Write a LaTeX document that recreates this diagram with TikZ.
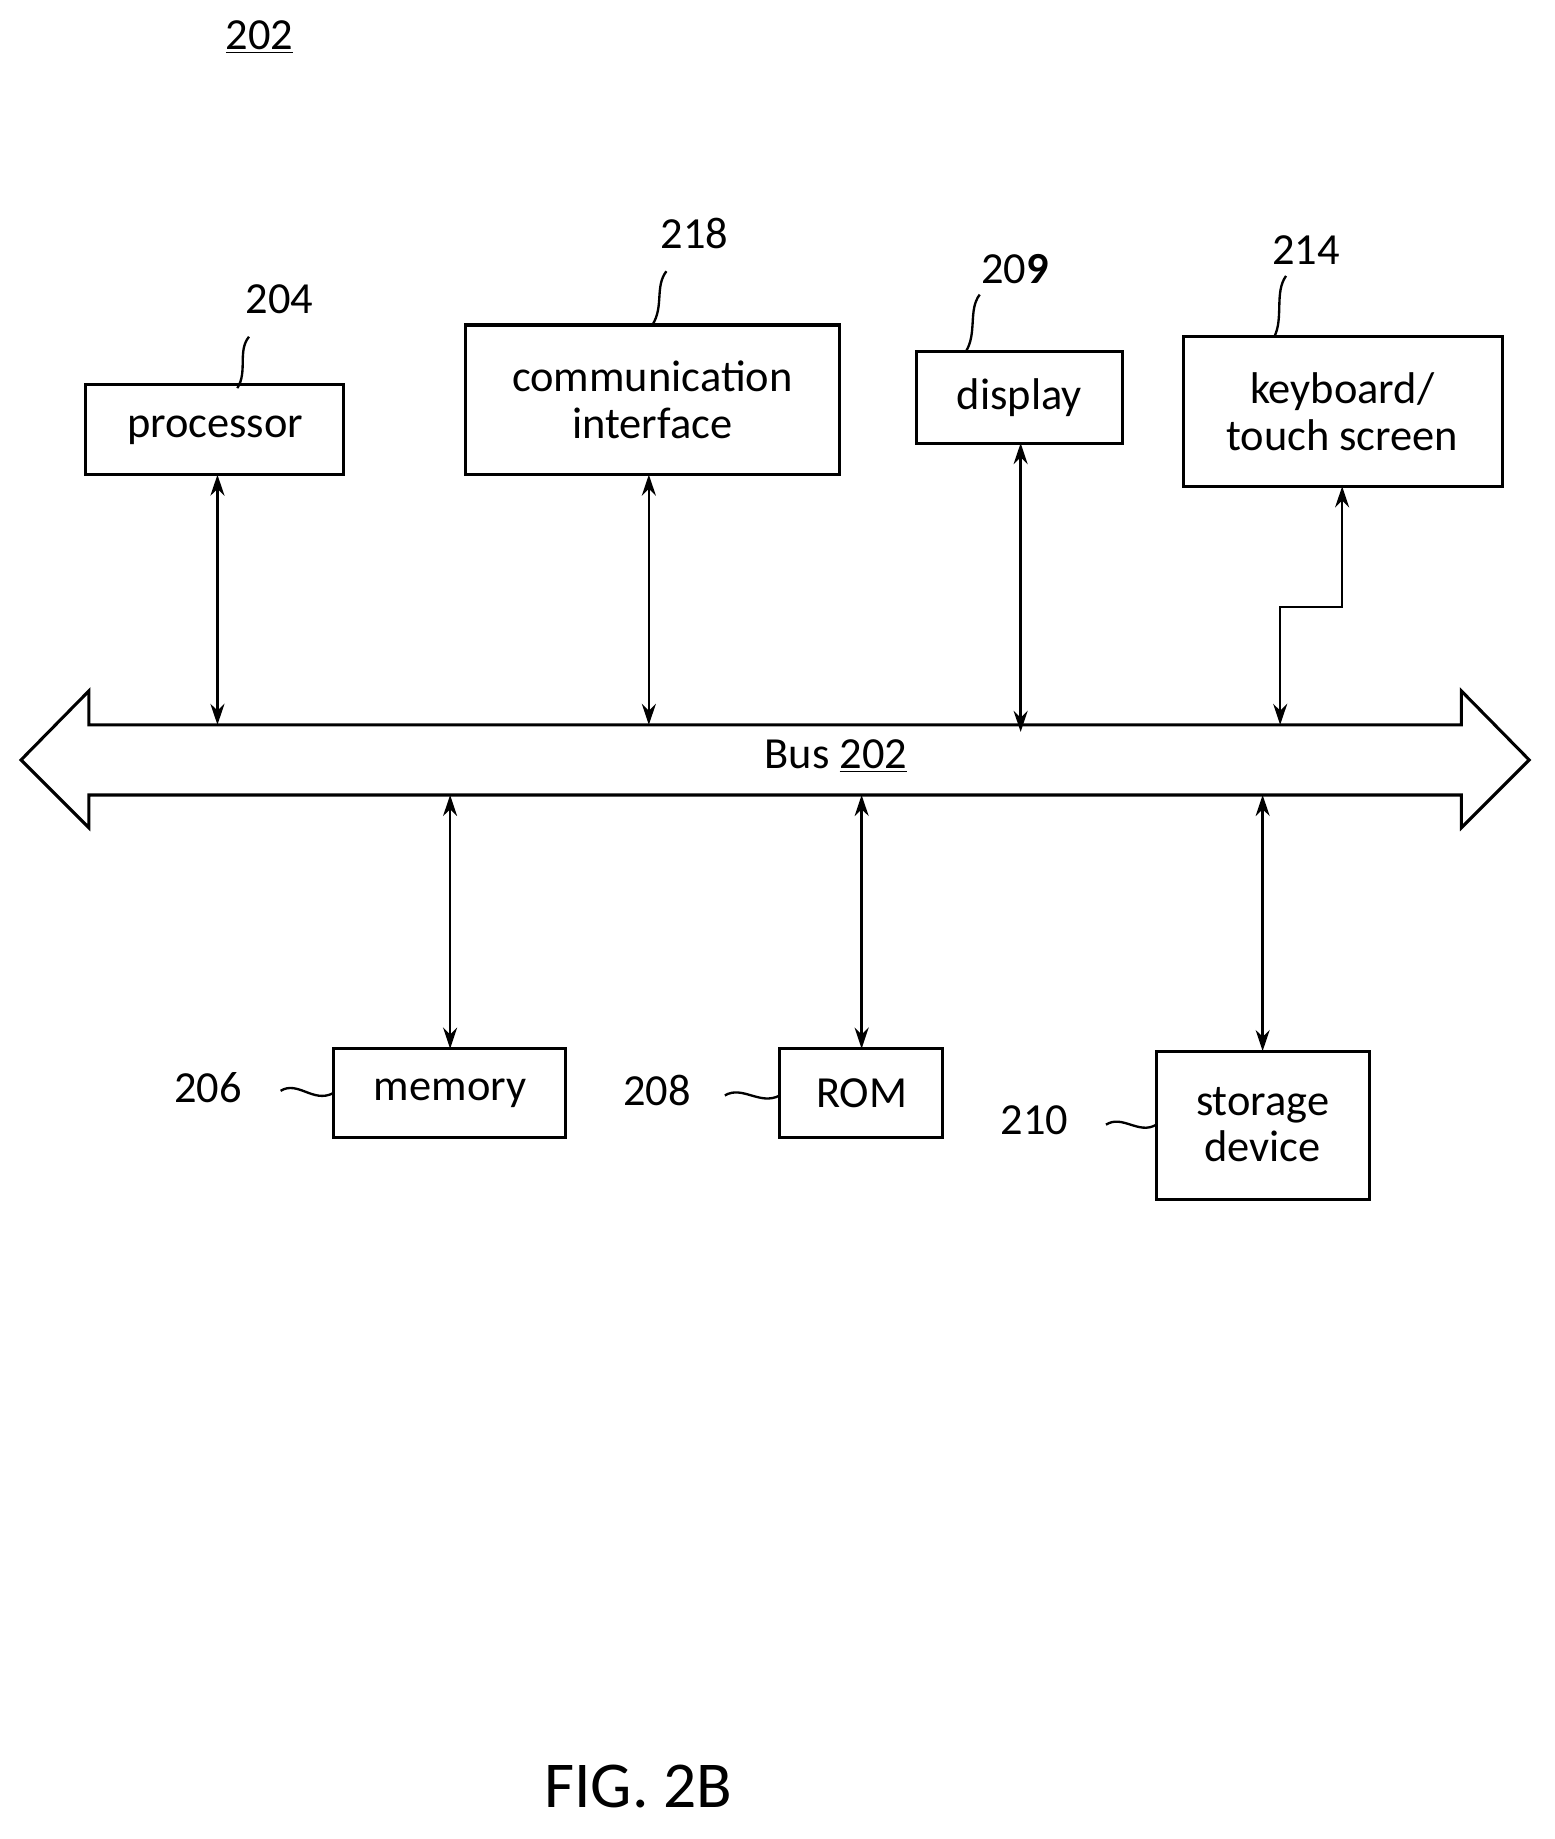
\documentclass[tikz,border=0pt]{standalone}
\usepackage{fontspec}
\setmainfont{Carlito}
\usetikzlibrary{arrows.meta}
\begin{document}
\begin{tikzpicture}[x=0.5pt,y=-0.5pt,
  box/.style={draw,line width=1.3pt,inner sep=0pt},
  lbl/.style={font=\fontsize{19}{22}\selectfont},
  conn/.style={line width=1pt,{Stealth[length=9pt,width=6pt]}-{Stealth[length=9pt,width=6pt]}},
  sq/.style={line width=1pt}]
\useasboundingbox (0,0) rectangle (1330,1573);
\node[lbl] (t202) at (222,32) {\underline{202}};
% boxes
\draw[box] (73,329) rectangle (294,406); \node[lbl] (proc) at (184,368) {processor};
\draw[box] (398,278) rectangle (718,406); \node[lbl,align=center] (comm) at (558,342) {communication\\[-2pt]interface};
\draw[box] (784,301) rectangle (960,379); \node[lbl] (disp) at (872,340) {display};
\draw[box] (1012,288) rectangle (1285,416); \node[lbl,align=center] (kb) at (1148,352) {keyboard/\\[-2pt]touch screen};
\draw[box] (285,897) rectangle (484,973); \node[lbl] (mem) at (385,935) {memory};
\draw[box] (667,897) rectangle (806,973); \node[lbl] (rom) at (737,935) {ROM};
\draw[box] (989,899) rectangle (1171,1026); \node[lbl,align=center] (sto) at (1080,962) {storage\\[-2pt]device};
% bus
\draw[line width=1.3pt] (18,650) -- (76,591) -- (76,620) -- (1250,620) -- (1250,591) -- (1308,650) -- (1250,708) -- (1250,680) -- (76,680) -- (76,708) -- cycle;
\node[lbl] (bus) at (715,647) {Bus \underline{202}};
% connectors
\coordinate (p1) at (186,406); \coordinate (p2) at (186,620);
\draw[conn] (p1) -- (p2);
\coordinate (c1) at (555,406); \coordinate (c2) at (555,620);
\draw[conn] (c1) -- (c2);
\coordinate (d1) at (873,379); \coordinate (d2) at (873,626);
\draw[conn] (d1) -- (d2);
\coordinate (k1) at (1148,416); \coordinate (k2) at (1095,620);
\draw[conn] (k1) -- (1148,519) -- (1095,519) -- (k2);
\coordinate (m1) at (385,680); \coordinate (m2) at (385,897);
\draw[conn] (m1) -- (m2);
\coordinate (r1) at (737,680); \coordinate (r2) at (737,897);
\draw[conn] (r1) -- (r2);
\coordinate (s1) at (1080,680); \coordinate (s2) at (1080,899);
\draw[conn] (s1) -- (s2);
% reference labels
\node[lbl] (n204) at (239,256) {204};
\draw[sq] (213,288) .. controls (203,300) and (212,318) .. (203,332);
\node[lbl] (n218) at (594,200) {218};
\draw[sq] (570,232) .. controls (560,245) and (568,262) .. (558,278);
\node[lbl] (n209) at (868,230) {20\textbf{9}};
\draw[sq] (838,252) .. controls (828,265) and (836,285) .. (826,301);
\node[lbl] (n214) at (1117,214) {214};
\draw[sq] (1100,236) .. controls (1090,250) and (1098,272) .. (1090,288);
\node[lbl] (n206) at (178,930) {206};
\draw[sq] (240,933) .. controls (255,924) and (268,944) .. (285,935);
\node[lbl] (n208) at (562,933) {208};
\draw[sq] (620,937) .. controls (635,928) and (650,946) .. (667,937);
\node[lbl] (n210) at (885,958) {210};
\draw[sq] (946,962) .. controls (960,953) and (974,971) .. (989,962);
\node[font=\fontsize{28}{32}\selectfont] (fig) at (546,1528) {FIG. 2B};
\end{tikzpicture}
\end{document}
